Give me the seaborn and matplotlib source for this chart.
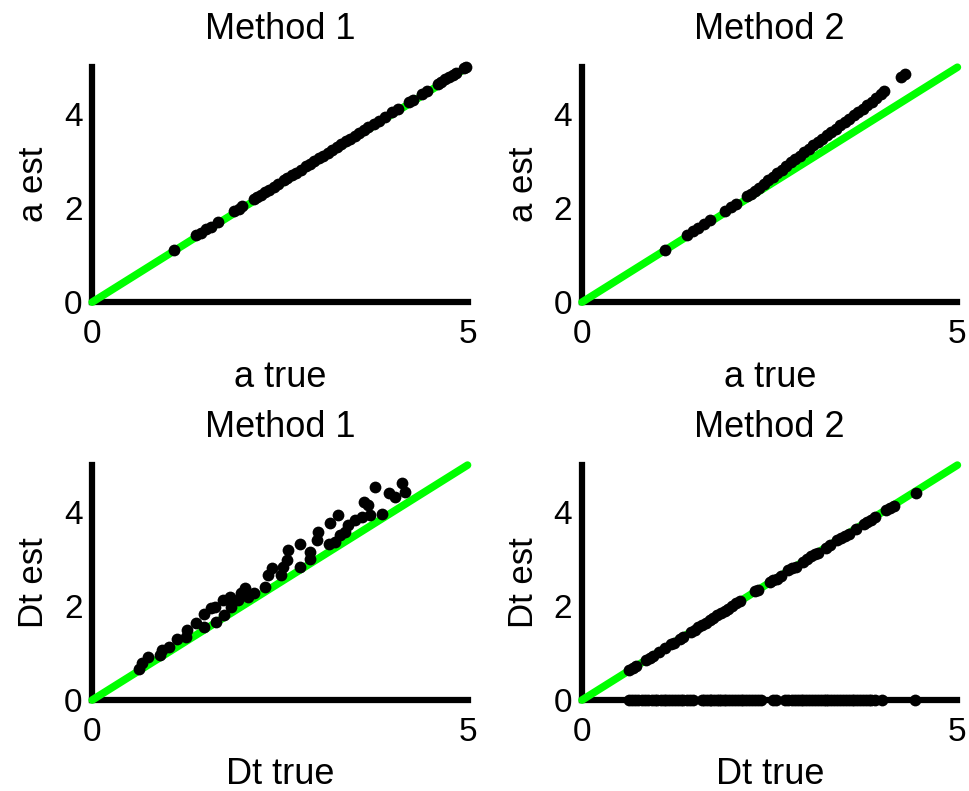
import matplotlib
matplotlib.use("Agg")
import matplotlib.pyplot as plt
import seaborn as sns

# identity line / axis range
diag = [0, 5]
ticks_x = [0, 5]
ticks_y = [0, 2, 4]

# a, method 1
a_true_m1 = [1.09, 1.38, 1.45, 1.51, 1.58, 1.67, 1.89, 1.95, 2.0, 2.16, 2.2, 2.25, 2.3,
             2.35, 2.42, 2.48, 2.55, 2.6, 2.66, 2.72, 2.78, 2.85, 2.9, 2.96, 3.02, 3.08,
             3.14, 3.2, 3.26, 3.32, 3.38, 3.44, 3.5, 3.56, 3.62, 3.68, 3.75, 3.82, 3.9,
             4.0, 4.08, 4.22, 4.27, 4.4, 4.46, 4.6, 4.65, 4.7, 4.75, 4.8, 4.85, 4.95, 4.98]
a_est_m1 = [1.11, 1.42, 1.48, 1.55, 1.61, 1.7, 1.93, 1.98, 2.04, 2.2, 2.24, 2.28, 2.34,
            2.39, 2.45, 2.52, 2.59, 2.64, 2.7, 2.75, 2.82, 2.89, 2.94, 3.0, 3.06, 3.12,
            3.18, 3.24, 3.3, 3.36, 3.42, 3.48, 3.54, 3.6, 3.66, 3.72, 3.79, 3.86, 3.94,
            4.04, 4.12, 4.27, 4.31, 4.44, 4.5, 4.64, 4.69, 4.74, 4.79, 4.84, 4.88, 4.98, 5.0]

# a, method 2
a_true_m2 = [1.1, 1.4, 1.48, 1.55, 1.62, 1.7, 1.9, 1.98, 2.05, 2.2, 2.25, 2.3, 2.36, 2.42,
             2.48, 2.54, 2.6, 2.66, 2.72, 2.78, 2.84, 2.9, 2.96, 3.02, 3.08, 3.14, 3.2,
             3.26, 3.32, 3.38, 3.44, 3.5, 3.56, 3.62, 3.68, 3.74, 3.8, 3.86, 3.92, 3.98,
             4.02, 4.25, 4.3]
a_est_m2 = [1.12, 1.43, 1.51, 1.58, 1.66, 1.74, 1.94, 2.02, 2.09, 2.25, 2.31, 2.37, 2.44,
            2.51, 2.59, 2.66, 2.74, 2.82, 2.9, 2.98, 3.05, 3.12, 3.19, 3.26, 3.34, 3.41,
            3.48, 3.55, 3.62, 3.69, 3.76, 3.83, 3.9, 3.98, 4.05, 4.11, 4.19, 4.27, 4.35,
            4.44, 4.5, 4.8, 4.85]

# Dt, method 1
dt_true_m1 = [0.62, 0.67, 0.75, 0.91, 0.93, 1.02, 1.13, 1.25, 1.27, 1.38, 1.49, 1.49, 1.58,
              1.63, 1.65, 1.74, 1.76, 1.83, 1.85, 1.94, 1.98, 2.03, 2.07, 2.16, 2.3, 2.34,
              2.39, 2.52, 2.54, 2.59, 2.61, 2.77, 2.77, 2.9, 2.9, 2.99, 3.01, 3.15, 3.17,
              3.23, 3.28, 3.3, 3.37, 3.41, 3.5, 3.59, 3.62, 3.68, 3.7, 3.77, 3.86, 3.95,
              4.04, 4.13, 4.17]
dt_est_m1 = [0.67, 0.78, 0.92, 0.96, 1.06, 1.13, 1.29, 1.35, 1.49, 1.65, 1.56, 1.84, 1.95,
             1.99, 1.67, 2.13, 1.81, 2.2, 1.99, 2.13, 2.27, 2.38, 2.2, 2.27, 2.41, 2.66,
             2.8, 2.66, 2.84, 2.98, 3.19, 3.33, 2.84, 3.16, 3.01, 3.4, 3.58, 3.33, 3.76,
             3.37, 3.94, 3.51, 3.58, 3.72, 3.83, 3.9, 4.22, 4.15, 3.94, 4.54, 3.97, 4.4,
             4.33, 4.61, 4.43]

# Dt, method 2
dt_true_m2 = [0.62, 0.68, 0.72, 0.85, 0.9, 0.95, 1.02, 1.1, 1.18, 1.22, 1.3, 1.35, 1.45,
              1.5, 1.55, 1.6, 1.65, 1.7, 1.75, 1.8, 1.85, 1.9, 1.95, 2.0, 2.05, 2.1, 2.3,
              2.35, 2.5, 2.55, 2.6, 2.65, 2.75, 2.8, 2.85, 2.95, 3.0, 3.05, 3.1, 3.15, 3.25,
              3.3, 3.4, 3.45, 3.5, 3.55, 3.65, 3.75, 3.8, 3.85, 3.9, 4.05, 4.1, 4.15, 4.45]
dt_est_m2 = [0.64, 0.69, 0.72, 0.86, 0.9, 0.94, 1.02, 1.11, 1.19, 1.22, 1.3, 1.34, 1.45,
             1.5, 1.56, 1.6, 1.65, 1.7, 1.74, 1.8, 1.86, 1.9, 1.94, 2.0, 2.06, 2.11, 2.31,
             2.34, 2.52, 2.55, 2.58, 2.64, 2.76, 2.8, 2.84, 2.94, 3.0, 3.06, 3.1, 3.14,
             3.24, 3.3, 3.41, 3.44, 3.5, 3.54, 3.64, 3.74, 3.79, 3.84, 3.9, 4.04, 4.08,
             4.13, 4.4]
# Dt, method 2: failed estimates (returned 0)
dt_true_zero = [0.62, 0.66, 0.7, 0.75, 0.8, 0.84, 0.88, 0.93, 0.97, 1.0, 1.05, 1.09, 1.12,
                1.16, 1.2, 1.24, 1.28, 1.32, 1.35, 1.4, 1.44, 1.48, 1.6, 1.63, 1.66, 1.7,
                1.72, 1.76, 1.8, 1.83, 1.85, 1.89, 1.92, 1.96, 2.0, 2.04, 2.08, 2.12, 2.15,
                2.19, 2.22, 2.26, 2.3, 2.34, 2.38, 2.55, 2.58, 2.7, 2.74, 2.8, 2.84, 2.88,
                2.92, 2.95, 2.99, 3.02, 3.06, 3.1, 3.14, 3.18, 3.22, 3.25, 3.28, 3.32, 3.36,
                3.4, 3.44, 3.48, 3.52, 3.55, 3.59, 3.62, 3.66, 3.7, 3.74, 3.78, 3.82, 3.85,
                3.9, 4.0, 4.44]
dt_est_zero = [0.0] * len(dt_true_zero)

sns.set_style("white")
plt.rcParams["font.family"] = ["Liberation Sans", "DejaVu Sans"]
plt.rcParams["text.color"] = "black"
plt.rcParams["axes.labelcolor"] = "black"
plt.rcParams["xtick.color"] = "black"
plt.rcParams["ytick.color"] = "black"

fig = plt.figure(figsize=(9.7, 7.91), dpi=100)
boxes = [[0.095, 0.618, 0.387, 0.297], [0.600, 0.618, 0.387, 0.297],
         [0.095, 0.115, 0.387, 0.297], [0.600, 0.115, 0.387, 0.297]]

panels = [
    ("Method 1", "a true", "a est", [(a_true_m1, a_est_m1)]),
    ("Method 2", "a true", "a est", [(a_true_m2, a_est_m2)]),
    ("Method 1", "Dt true", "Dt est", [(dt_true_m1, dt_est_m1)]),
    ("Method 2", "Dt true", "Dt est", [(dt_true_m2, dt_est_m2), (dt_true_zero, dt_est_zero)]),
]

for box, (title, xlab, ylab, series) in zip(boxes, panels):
    ax = fig.add_axes(box)
    sns.lineplot(x=diag, y=diag, ax=ax, color="#00ff00", linewidth=5.5,
                 zorder=3, clip_on=False)
    for xs, ys in series:
        sns.scatterplot(x=xs, y=ys, ax=ax, color="black", s=72, linewidth=0,
                        zorder=4, clip_on=False)
    ax.set_xlim(diag)
    ax.set_ylim(diag)
    ax.set_xticks(ticks_x)
    ax.set_yticks(ticks_y)
    sns.despine(ax=ax)
    for side in ["left", "bottom"]:
        ax.spines[side].set_linewidth(4.5)
        ax.spines[side].set_color("black")
    ax.tick_params(axis="both", direction="in", length=3, width=1, labelsize=24)
    ax.tick_params(axis="x", pad=12)
    ax.tick_params(axis="y", pad=7)
    ax.set_title(title, fontsize=26, pad=20)
    ax.set_xlabel(xlab, fontsize=26, labelpad=7)
    ax.set_ylabel(ylab, fontsize=25, labelpad=10)

fig.savefig("out.png", dpi=100)
